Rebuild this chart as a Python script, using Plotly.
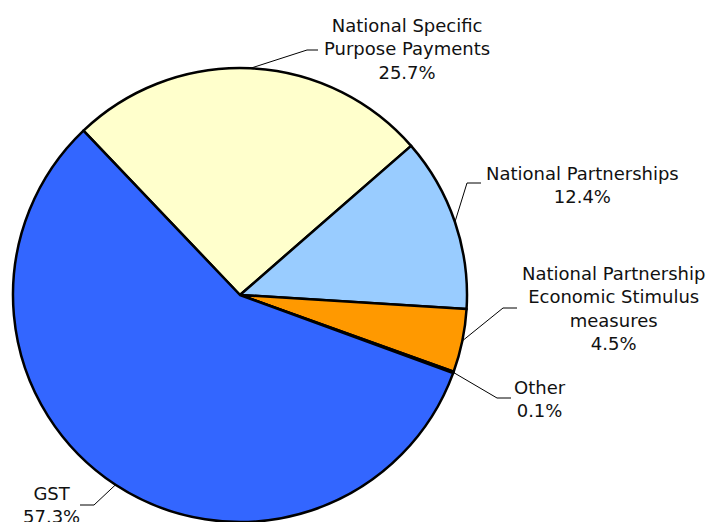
import math
import plotly.graph_objects as go

# ---- data ----
categories = ["National Specific Purpose Payments", "National Partnerships",
              "National Partnership Economic Stimulus measures", "Other", "GST"]
shares = [25.7, 12.4, 4.5, 0.1, 57.3]
label_texts = ["National Specific<br>Purpose Payments<br>25.7%",
               "National Partnerships<br>12.4%",
               "National Partnership<br>Economic Stimulus<br>measures<br>4.5%",
               "Other<br>0.1%",
               "GST<br>57.3%"]

# ---- style ----
colors = ["#FFFFCC", "#99CCFF", "#FF9900", "#CC6699", "#3366FF"]
W, H = 710, 522
ROT = -43.6
cx, cy, R = 240, 295, 227  # pie centre / radius in px (layout)
# label centres and leader elbows/ends in px (layout)
label_pos = [(407, 49), (582, 184.5), (613, 308.5), (540, 399), (51, 505)]
elbows = [((307, 50), (318, 50)), ((467, 183), (481, 183)),
          ((503, 308), (517, 308)), ((497, 398), (511, 398)),
          ((94, 505), (80, 505))]

def px2paper(x, y):
    return x / W, 1 - y / H

fig = go.Figure(go.Pie(
    labels=categories, values=shares, sort=False, direction="clockwise",
    rotation=ROT, textinfo="none", hoverinfo="label+percent",
    marker=dict(colors=colors, line=dict(color="black", width=2.5)),
    domain=dict(x=[(cx - R) / W, (cx + R) / W], y=[1 - (cy + R) / H, 1 - (cy - R) / H]),
    showlegend=False,
))

total = sum(shares)
cum = 0
shapes = []
annotations = []
for i, v in enumerate(shares):
    mid = ROT + (cum + v / 2) / total * 360
    cum += v
    a = math.radians(mid)
    sx, sy = cx + R * math.sin(a), cy - R * math.cos(a)
    (ex, ey), (fx, fy) = elbows[i]
    for (x0, y0), (x1, y1) in [((sx, sy), (ex, ey)), ((ex, ey), (fx, fy))]:
        p0 = px2paper(x0, y0)
        p1 = px2paper(x1, y1)
        shapes.append(dict(type="line", xref="paper", yref="paper",
                           x0=p0[0], y0=p0[1], x1=p1[0], y1=p1[1],
                           line=dict(color="black", width=1)))
    lx, ly = px2paper(*label_pos[i])
    annotations.append(dict(text=label_texts[i], x=lx, y=ly, xref="paper", yref="paper",
                            xanchor="center", yanchor="middle", align="center",
                            showarrow=False,
                            font=dict(family="DejaVu Sans", size=18, color="#111111")))

fig.update_layout(width=W, height=H, margin=dict(l=0, r=0, t=0, b=0),
                  paper_bgcolor="white", plot_bgcolor="white",
                  shapes=shapes, annotations=annotations)
fig.write_html("out.html", config={"displayModeBar": False},
               post_script="document.body.style.margin='0';document.body.style.overflow='hidden';")
